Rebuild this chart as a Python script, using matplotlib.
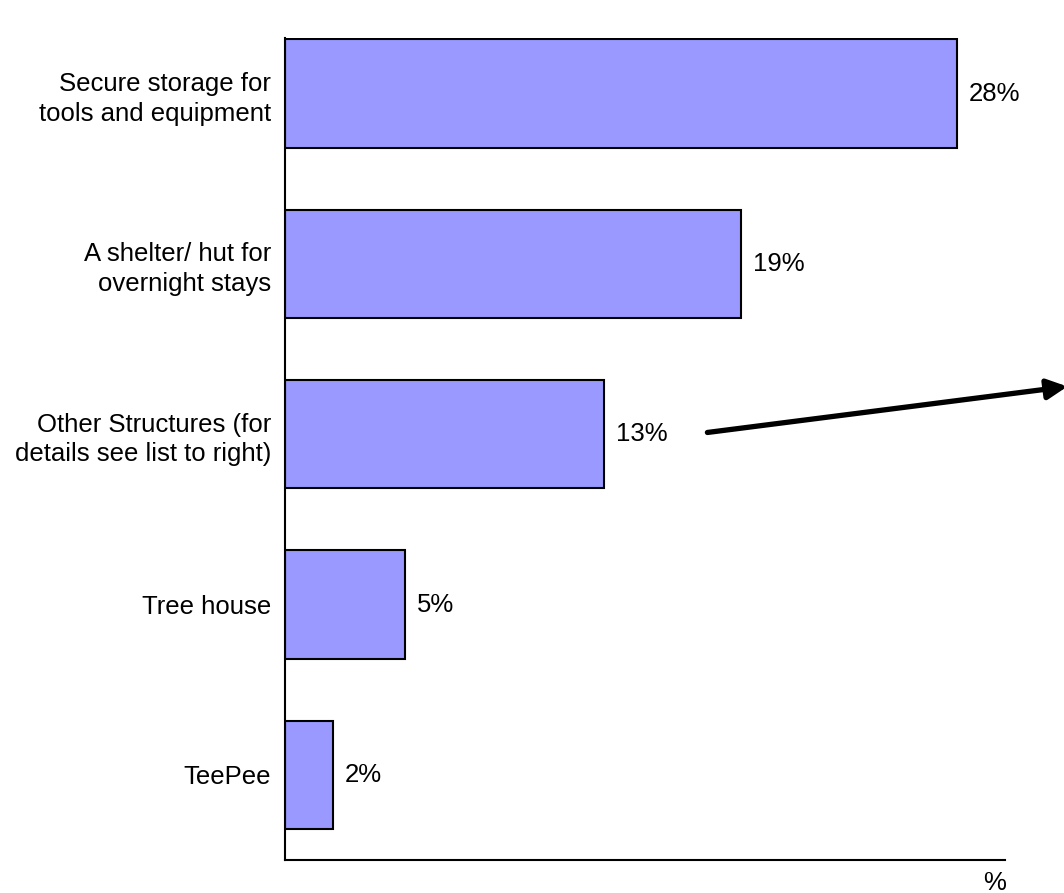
import matplotlib.pyplot as plt
import numpy as np

# categories, top to bottom
labels = ['Secure storage for\ntools and equipment',
          'A shelter/ hut for\novernight stays',
          'Other Structures (for\ndetails see list to right)',
          'Tree house',
          'TeePee']
values = [28, 19, 13.3, 5, 2]

plt.rcParams['font.family'] = ['Liberation Sans', 'DejaVu Sans']

fig = plt.figure(figsize=(10.64, 8.93), dpi=100)
ax = fig.add_axes([285/1064, 1-860/893, 720/1064, 822/893])

pos = np.arange(len(values))
ax.barh(pos, values, height=0.635, color='#9999ff', edgecolor='black', linewidth=1.5)

for p, v in zip(pos, values):
    ax.text(v + 0.5, p, '%.0f%%' % v, va='center', ha='left', fontsize=18.5)

ax.set_xlim(0, 30)
ax.set_ylim(4.5, -0.326)
ax.set_yticks(pos)
ax.set_yticklabels(labels, fontsize=18.5, linespacing=1.3)
ax.tick_params(axis='y', length=0, pad=10)
ax.set_xticks([])
ax.spines['top'].set_visible(False)
ax.spines['right'].set_visible(False)
ax.spines['left'].set_linewidth(1.5)
ax.spines['bottom'].set_linewidth(1.5)

ax.text(0.985, -0.028, '%', transform=ax.transAxes, ha='center', va='center', fontsize=18.5)

# arrow pointing to the (not shown) list on the right
ax.annotate('', xy=(32.6, 1.72), xytext=(17.6, 1.99),
            arrowprops=dict(arrowstyle='-|>', lw=3.8, color='black',
                            mutation_scale=30, shrinkA=0, shrinkB=0),
            annotation_clip=False)

fig.savefig('out.png', dpi=100)
